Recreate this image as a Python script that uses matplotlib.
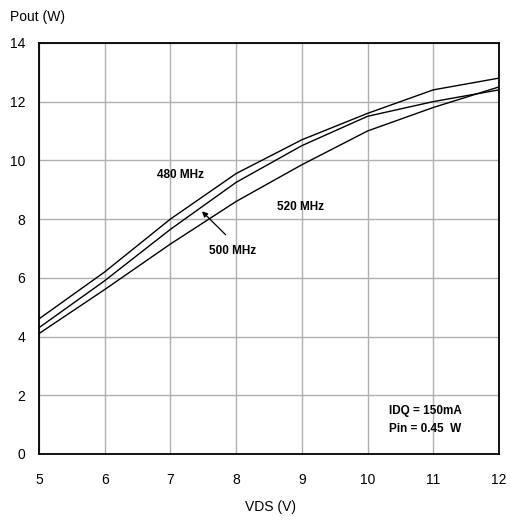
import numpy as np
import matplotlib.pyplot as plt

plt.rcParams['font.family'] = ['Liberation Sans', 'DejaVu Sans']

vds = [5, 6, 7, 8, 9, 10, 11, 12]
p480 = [4.6, 6.2, 8.0, 9.55, 10.7, 11.6, 12.4, 12.8]
p500 = [4.3, 5.9, 7.65, 9.25, 10.5, 11.5, 12.0, 12.4]
p520 = [4.1, 5.6, 7.15, 8.6, 9.85, 11.0, 11.8, 12.5]

fig = plt.figure(figsize=(5.11, 5.23), dpi=100)
ax = fig.add_axes([0.0763, 0.132, 0.9002, 0.786])

for p in (p480, p500, p520):
    ax.plot(vds, p, color='black', lw=1.0)

ax.set_xlim(5, 12)
ax.set_ylim(0, 14)
ax.set_xticks(np.arange(5, 13, 1))
ax.set_yticks(np.arange(0, 15, 2))
ax.grid(True, color='#b0b0b0', lw=1.0)
ax.tick_params(length=0, labelsize=10)
ax.tick_params(axis='x', pad=14)
ax.tick_params(axis='y', pad=10)
for s in ax.spines.values():
    s.set_linewidth(1.3)
    s.set_color('black')

ax.text(7.15, 9.5, '480 MHz', fontsize=8.5, fontweight='bold', ha='center', va='center')
ax.text(8.98, 8.42, '520 MHz', fontsize=8.5, fontweight='bold', ha='center', va='center')
ax.text(7.95, 6.9, '500 MHz', fontsize=8.5, fontweight='bold', ha='center', va='center')
ax.annotate('', xy=(7.45, 8.33), xytext=(7.87, 7.4),
            arrowprops=dict(arrowstyle='-|>', color='black', lw=0.9, mutation_scale=8))

ax.text(10.32, 1.45, 'IDQ = 150mA', fontsize=8.5, fontweight='bold', va='center')
ax.text(10.32, 0.85, 'Pin = 0.45  W', fontsize=8.5, fontweight='bold', va='center')

fig.text(0.019, 0.967, 'Pout (W)', fontsize=10, va='center')
fig.text(0.530, 0.030, 'VDS (V)', fontsize=10, ha='center', va='center')

fig.savefig('out.png', dpi=100)
